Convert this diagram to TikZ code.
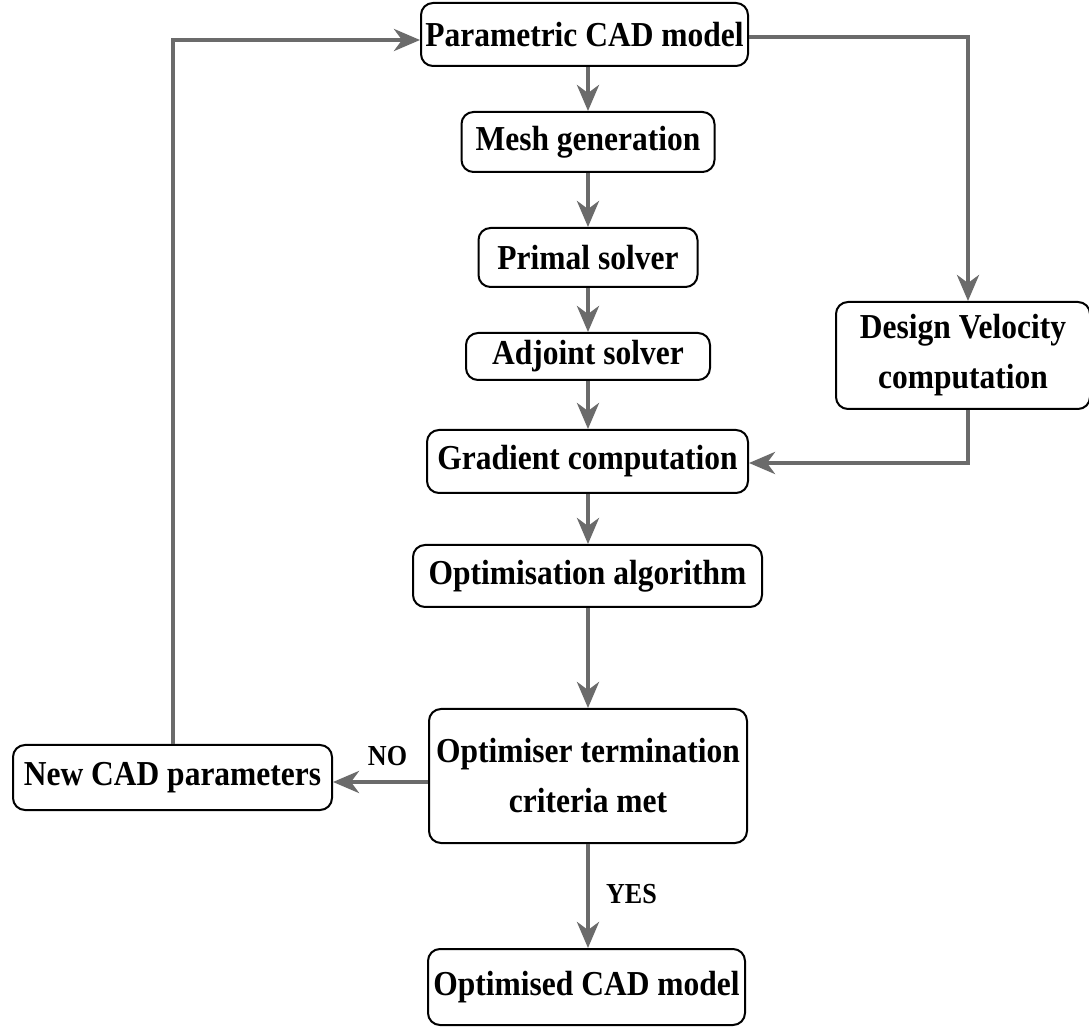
\documentclass[tikz,border=0pt]{standalone}
\usepackage{fontspec}
\setmainfont{Liberation Serif}[FakeStretch=0.9]
\usetikzlibrary{arrows.meta}
\tikzset{
  box/.style={draw=black, line width=1pt, rounded corners=6pt, inner sep=0pt, align=center,
    font=\fontsize{17.5}{25}\selectfont\bfseries, fill=white},
  flow/.style={draw=black!58, line width=2pt, -{Stealth[length=13pt,width=11pt,inset=4pt]}},
  lab/.style={font=\fontsize{14.5}{16}\selectfont\bfseries, inner sep=0pt}
}
\begin{document}
\begin{tikzpicture}[x=0.5pt,y=-0.5pt]
\useasboundingbox (0,0) rectangle (1089,1027);
\node[box, minimum width=163.5pt, minimum height=31.5pt] (pcad) at (584.5,34.5) {Parametric CAD model};
\node[box, minimum width=126.5pt, minimum height=30pt] (mesh) at (588,142) {Mesh generation};
\node[box, minimum width=109.5pt, minimum height=29.5pt] (primal) at (588,257.5) {Primal solver};
\node[box, minimum width=122pt, minimum height=23.5pt] (adj) at (588,356.5) {Adjoint solver};
\node[box, minimum width=160.5pt, minimum height=31.5pt] (grad) at (587.5,461.5) {Gradient computation};
\node[box, minimum width=174.5pt, minimum height=31pt] (opt) at (587.5,576) {Optimisation algorithm};
\node[box, minimum width=159pt, minimum height=67pt] (term) at (588,776) {Optimiser termination\\criteria met};
\node[box, minimum width=158.5pt, minimum height=38pt] (final) at (586.5,987) {Optimised CAD model};
\node[box, minimum width=159.5pt, minimum height=32.5pt] (newcad) at (172.5,777.5) {New CAD parameters};
\node[box, minimum width=127pt, minimum height=53.5pt] (dv) at (963,355.5) {Design Velocity\\computation};

\draw[flow] (pcad.south -| mesh.north) -- (mesh.north);
\draw[flow] (mesh) -- (primal);
\draw[flow] (primal) -- (adj);
\draw[flow] (adj) -- (grad.north -| adj.south);
\draw[flow] (grad.south -| adj.south) -- (opt.north -| adj.south);
\draw[flow] (opt.south -| adj.south) -- (term.north -| adj.south);
\draw[flow] (term.south -| adj.south) -- node[lab, right=8pt, pos=0.48] {YES} (final.north -| adj.south);
\coordinate (c1) at (968,37);
\draw[flow] (pcad.east |- c1) -| (dv.north -| c1);
\coordinate (c2) at (968,463);
\draw[flow] (dv.south -| c2) |- (grad.east |- c2);
\coordinate (c3) at (173,40);
\draw[flow] (newcad.north -| c3) |- (pcad.west |- c3);
\coordinate (c4) at (0,782);
\draw[flow] (term.west |- c4) -- node[lab, above=7pt, xshift=3.5pt] {NO} (newcad.east |- c4);
\end{tikzpicture}
\end{document}
